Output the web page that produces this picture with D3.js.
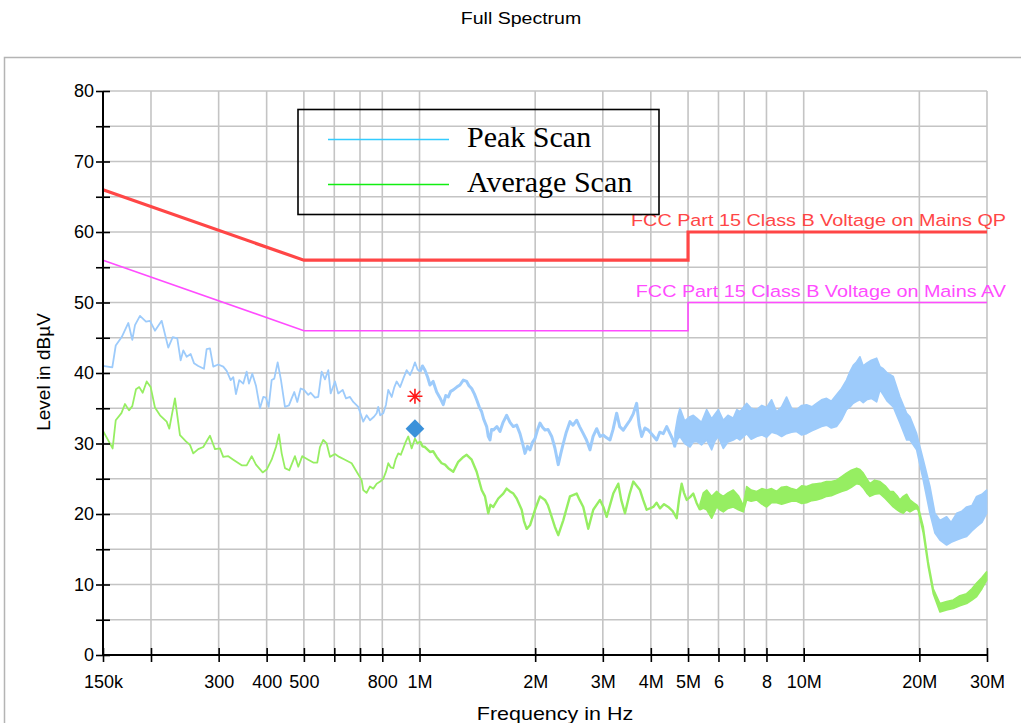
<!DOCTYPE html>
<html><head><meta charset="utf-8">
<script src="https://cdn.jsdelivr.net/npm/d3@7"></script>
<style>
body{margin:0;background:#fff;}
svg{display:block;font-family:Arial,"Liberation Sans",sans-serif;}
</style>
</head><body>
<svg id="chart" width="1021" height="723"></svg>
<script>
// ---------- data (frequency in kHz, level in dBµV) ----------
const chartTitle = "Full Spectrum";
const xAxisTitle = "Frequency in Hz";
const yAxisTitle = "Level in dBµV";

const xGridValues = [150,200,300,400,500,600,700,800,1000,2000,3000,4000,5000,6000,7000,8000,10000,20000,30000];
const xTickLabels = {150:"150k",300:"300",400:"400",500:"500",800:"800",1000:"1M",2000:"2M",3000:"3M",4000:"4M",5000:"5M",6000:"6",8000:"8",10000:"10M",20000:"20M",30000:"30M"};
const yLabelValues = [0,10,20,30,40,50,60,70,80];
const yGridValues = [5,10,15,20,25,30,35,40,45,50,55,60,65,70,75,80];

const qpLimit = [[150,66],[500,56],[5000,56],[5000,60],[30000,60]];
const avLimit = [[150,56],[500,46],[5000,46],[5000,50],[30000,50]];
const qpLabel = "FCC Part 15 Class B Voltage on Mains QP";
const avLabel = "FCC Part 15 Class B Voltage on Mains AV";

const seriesNames = ["Peak Scan","Average Scan"];

// Peak scan, low band: [kHz, dB]
const peakLow = [
 [150,41.0],[158.6,40.8],[161.9,43.9],[167.8,45.1],[174.6,47.1],[178.8,44.7],[181.7,46.8],[187.2,48.1],
 [194.1,47.3],[198.8,47.4],[204.8,46.0],[213.2,47.4],[221.8,43.6],[227.8,45.1],[234.1,44.9],[238.9,41.8],
 [242.7,43.2],[247.7,42.3],[253.7,42.7],[258.8,41.4],[265.5,41.0],[274.7,40.6],[279.2,43.4],[284.8,43.5],
 [290.5,40.9],[299.3,41.2],[308.4,40.9],[314.8,40.3],[322.4,39.0],[327.5,39.4],[332.8,37.0],[339.5,39.0],
 [347.7,38.5],[354.9,40.2],[359.8,38.5],[367.0,39.9],[375.2,38.2],[384.3,35.0],[392.0,36.6],[398.4,36.5],
 [404.9,35.2],[412.2,39.0],[418.7,39.2],[427.3,41.5],[435.9,39.0],[446.4,35.2],[457.2,35.4],[464.7,36.4],
 [472.0,37.3],[480.6,35.9],[490.5,37.8],[500.3,37.6],[513.3,36.9],[520.8,37.2],[534.4,36.5],[545.0,36.6],
 [556.2,40.2],[567.4,39.1],[578.7,40.4],[587.1,37.1],[602.4,38.8],[614.4,37.1],[630.9,37.6],[643.5,36.4],
 [659.1,36.6],[672.2,35.9],[692.7,35.2],[713.7,33.1],[728.4,34.0],[743.0,33.3],[761.0,33.8],[773.5,34.3],
 [780.9,35.2],[790,34.0],[804.7,34.3],[818,35.5],[829.2,37.6],[846.3,36.6],[860,38.0],[872.0,38.8],[890,38.0],
 [907.2,39.2],[925.9,40.4],[944.4,39.7],[960,40.6],[973.1,41.5],[988,40.5],[1002.7,40.2]
];
// Peak scan, mid band (denser trace): [kHz, dB]
const peakMid = [
 [1002.7,40.2],[1018,41.0],[1033.2,40.4],
 [1050,39.4],[1064.6,38.3],[1085,38.8],[1108.2,37.3],[1130,36.5],[1152.9,35.5],[1170,36.8],[1188.0,36.6],
 [1205,37.4],[1224.1,37.6],[1250,38.0],[1274.3,38.3],[1300,39.0],[1326.5,38.8],[1345,38.2],[1366.8,37.8],
 [1390,37.0],[1408.4,36.2],[1430,35.2],[1451.3,34.5],[1470,33.4],[1495.5,32.4],[1510,31.0],[1525.4,30.5],
 [1540,32.0],[1556.0,31.9],[1590,32.4],[1619.6,31.7],[1650,33.0],[1686.0,34.0],[1720,33.0],[1754.1,32.4],
 [1790,32.6],[1826.0,31.4],[1855,30.0],[1881.6,28.6],[1910,29.6],[1938.9,29.1],[1970,30.2],[1998.0,30.7],
 [2030,32.0],[2058.6,32.9],[2090,32.3],[2121.3,31.9],[2160,32.0],[2208.3,31.0],[2250,29.4],[2296.8,27.0],
 [2330,28.5],[2366.7,30.0],[2410,31.6],[2463.6,33.1],[2510,32.6],[2564.5,33.3],[2610,32.4],[2668.1,31.4],
 [2720,30.5],[2777.4,29.1],[2830,31.0],[2891.3,32.1],[2950,31.0],[3008,31.2],[3070,30.8],[3131.3,30.5],
 [3190,32.0],[3259.5,34.3],[3320,32.4],[3391.1,31.9],[3460,32.6],[3530.1,33.3],[3600,34.2],[3674.7,35.7],
 [3730,32.6],[3786.5,31.0],[3860,32.2],[3939.5,31.9],[4040,31.2],[4142.9,30.5],[4220,31.6],[4310.1,31.4],
 [4400,32.4],[4486.7,31.4],[4560,30.6],[4623.3,29.5]
];
// Peak scan, dense part: [kHz, low, high]
const peakBand = [
 [4623,29.5,31.5],[4700,30.6,33.8],[4764,31.0,35.0],[4900,30.0,33.2],[5058,29.5,33.8],[5160,30.2,34.0],
 [5266,30.3,33.6],[5420,29.8,33.0],[5591,30.5,34.8],[5761,29.1,33.5],[5880,30.4,34.2],[5993,31.0,34.8],
 [6176,29.3,33.3],[6350,30.2,34.0],[6557,30.5,33.6],[6700,30.8,34.8],[6826,30.5,34.5],[7106,31.4,35.7],
 [7300,30.6,35.0],[7544,31.0,34.8],[7780,31.2,35.4],[8009,30.9,35.1],[8250,31.6,36.2],[8502,31.4,34.5],
 [8760,31.0,35.2],[9026,31.4,36.6],[9300,31.6,35.0],[9583,31.7,34.8],[9880,31.2,35.4],[10173,31.4,35.5],
 [10500,31.8,35.2],[10801,32.1,35.7],[11130,32.4,36.2],[11467,32.6,36.4],[11800,32.2,36.0],[12173,32.4,36.9],
 [12550,33.4,37.8],[12924,34.8,39.0],[13200,35.2,40.2],[13457,35.7,41.1],[13734,36.0,41.6],[14008,36.2,42.3],
 [14288,35.8,41.0],[14582,36.2,41.4],[15000,36.4,41.8],[15485,35.9,42.1],[15794,37.6,40.9],[16109,36.9,40.6],
 [16500,36.0,40.0],[17103,35.2,39.5],[17803,32.9,36.6],[18533,30.5,34.3],[18903,30.5,33.8],[19677,29.1,31.4],
 [20472,24.8,27.7],[21311,20.1,23.9],[21960,17.3,20.1],[22628,16.3,19.1],[23555,15.6,19.6],[24200,16.0,18.8],
 [25011,16.3,20.1],[25800,16.6,20.4],[26555,16.8,21.0],[27400,17.6,21.2],[28191,18.2,22.5],[29100,18.8,22.8],
 [29931,20.1,23.4]
];
// Average scan, low band: [kHz, dB]
const avgLow = [
 [150,31.8],[158.9,29.3],[161.9,33.3],[167.5,34.3],[171.1,35.6],[175.3,34.7],[178.8,35.3],[182.8,37.7],
 [186.4,38.0],[190.3,37.2],[194.9,38.8],[199.6,38.0],[204.8,35.1],[211.1,34.0],[219.7,33.1],[223.2,32.1],
 [230.9,36.4],[237.9,31.2],[246.6,30.3],[252.6,29.8],[257.7,28.6],[265.5,29.2],[273.6,29.5],[284.8,31.1],
 [293.5,29.2],[302.4,29.3],[308.4,28.1],[317.8,28.2],[327.5,27.7],[344.4,26.9],[354.9,26.9],[365.7,28.2],
 [375.2,27.0],[390.6,25.9],[400.1,26.3],[412.2,27.7],[423.0,29.5],[430.7,31.3],[437.7,28.6],[446.4,26.5],
 [458.1,26.2],[474.0,28.2],[483.5,26.7],[495.2,28.2],[513.3,27.7],[528.9,27.3],[541.8,27.3],[550.6,29.5],
 [561.6,30.5],[573.2,30.0],[584.6,28.1],[602.4,28.5],[618.1,28.1],[639.6,27.7],[665.8,27.2],[686.1,26.0],
 [706.9,24.8],[713.7,23.4],[728,23.0],[743.0,23.9],[758,23.6],[773.5,24.3],[790,24.6],[804.7,25.0],[818,26.0],
 [829.2,27.2],[842,26.6],[854.4,26.5],[867,27.8],[880.4,28.6],[894,28.4],[907.2,29.3],[920,30.2],[934.8,31.0],
 [954.0,29.3],[973.1,30.7],[988,30.0],[1002.7,30.3]
];
// Average scan, mid band: [kHz, dB]
const avgMid = [
 [1002.7,30.3],[1018,29.6],[1033.2,29.5],[1064.6,28.8],[1085,28.9],
 [1108.2,28.1],[1141.9,27.2],[1165,27.0],[1188.0,26.5],[1224.1,26.0],[1261.3,27.4],[1295,28.0],[1326.5,28.4],
 [1366.8,27.7],[1408.4,26.0],[1451.3,23.4],[1480.4,22.5],[1509.9,20.1],[1530,21.3],[1556.0,21.0],[1603.2,22.2],
 [1652.0,22.9],[1685,23.6],[1719.8,23.2],[1755,22.9],[1790.3,22.2],[1844.7,20.6],[1870,19.0],[1900.9,17.9],
 [1938.9,18.4],[1998.0,20.6],[2058.6,22.5],[2121.3,22.0],[2160,21.2],[2208.3,19.6],[2250,18.2],[2296.8,17.0],
 [2366.7,19.1],[2463.6,22.5],[2564.5,22.9],[2610,22.0],[2668.1,21.0],[2749.2,17.9],[2832.9,20.6],[2949.0,22.0],
 [3010,21.0],[3069.9,19.6],[3193.8,22.9],[3291.0,24.3],[3350,22.0],[3425.9,20.1],[3520,22.8],[3600.6,24.6],
 [3748.2,23.4],[3820,22.0],[3901.8,20.6],[4059.3,21.0],[4140,21.6],[4225.7,20.8],[4330,21.4],[4441.2,21.0],
 [4560,20.4],[4670.6,19.4],[4740,22.2],[4812.9,24.3],[4880,23.0],[4959.2,22.0],[5060,22.4],[5159.4,22.9],
 [5260,21.6],[5370.9,20.6]
];
// Average scan, dense part: [kHz, low, high]
const avgBand = [
 [5371,20.6,21.4],[5480,20.8,23.0],[5591,20.6,23.4],[5761,19.4,22.5],[5936,21.0,23.2],[6050,20.6,22.8],
 [6176,20.3,22.5],[6350,20.8,23.0],[6557,21.0,23.4],[6760,20.6,22.6],[6962,20.3,21.2],[7106,22.0,23.9],
 [7300,21.8,23.4],[7544,22.0,23.2],[7780,21.4,23.6],[8009,21.0,23.4],[8250,21.6,23.6],[8502,21.6,23.2],
 [8760,21.4,23.8],[9026,21.6,23.9],[9300,21.8,23.6],[9583,21.8,23.4],[9880,21.5,24.0],[10173,21.6,23.9],
 [10500,21.9,24.2],[10801,22.0,24.3],[11130,22.2,24.4],[11467,22.5,24.6],[11800,22.6,24.6],[12173,22.9,24.8],
 [12550,23.2,25.3],[12924,23.4,25.8],[13300,23.8,26.2],[13734,24.3,26.5],[14008,24.2,26.3],[14288,23.7,25.8],
 [14582,23.0,25.0],[14875,22.5,24.3],[15300,22.8,24.8],[15794,22.9,24.6],[16300,22.2,24.0],[16767,21.5,23.2],
 [17103,21.0,23.2],[17500,20.6,22.6],[17803,20.3,22.0],[18159,20.1,22.5],[18533,20.6,22.8],[18903,20.3,22.0],
 [19300,20.6,21.6],[19677,20.8,21.3],[19868,20.5,21.0],[20472,17.3,18.2],[21095,12.5,13.2],[21737,8.7,9.4],
 [22628,6.1,7.3],[23555,6.4,7.6],[24506,6.6,7.8],[25500,7.0,8.4],[26555,7.3,8.7],[27400,7.8,9.4],
 [28191,8.3,10.2],[29100,9.4,11.0],[29931,10.6,11.8]
];
// Final measurement markers: [kHz, dB]
const qpMarker = [[973,36.7]];
const avMarker = [[973,32.1]];

// ---------- drawing ----------
const svg = d3.select("#chart");
const x = d3.scaleLog().domain([150, 30000]).range([103, 987]);
const y = d3.scaleLinear().domain([0, 80]).range([655, 91]);

// outer panel
svg.append("rect").attr("x",4.5).attr("y",57.5).attr("width",1100).attr("height",800)
  .attr("fill","none").attr("stroke","#b4b4b4").attr("stroke-width",1.5);

function wideText(tx, ty, sx, anchor, size, color, str){
  return svg.append("text").attr("transform",`translate(${tx},${ty}) scale(${sx},1)`)
    .attr("text-anchor",anchor).attr("font-size",size).attr("fill",color).text(str);
}
wideText(521, 24, 1.15, "middle", 17, "#000", chartTitle);

// grid
const grid = svg.append("g").attr("stroke","#c4c4c4").attr("stroke-width",1.6);
grid.selectAll(".vg").data(xGridValues.slice(1)).join("line")
  .attr("x1",d=>x(d)).attr("x2",d=>x(d)).attr("y1",y(80)).attr("y2",y(0));
grid.selectAll(".hg").data(yGridValues).join("line")
  .attr("x1",x(150)).attr("x2",x(30000)).attr("y1",d=>y(d)).attr("y2",d=>y(d));

// limit lines
const lim = d3.line().x(d=>x(d[0])).y(d=>y(d[1]));
svg.append("path").datum(qpLimit).attr("d",lim).attr("fill","none").attr("stroke","#ff4646").attr("stroke-width",3.2);
svg.append("path").datum(avLimit).attr("d",lim).attr("fill","none").attr("stroke","#ff4cff").attr("stroke-width",1.6);
wideText(1006, 226, 1.165, "end", 17, "#ff4646", qpLabel);
wideText(1006, 297, 1.165, "end", 17, "#ff4cff", avLabel);

// traces
const peakColor = "#9dcbfb", avgColor = "#96ee62";
const line = d3.line().x(d=>x(d[0])).y(d=>y(d[1]));
const area = d3.area().x(d=>x(d[0])).y0(d=>y(d[1])).y1(d=>y(d[2]));
function trace(low, mid, band, color, midWidth){
  svg.append("path").datum(low).attr("d",line).attr("fill","none").attr("stroke",color)
    .attr("stroke-width",1.8).attr("stroke-linejoin","round");
  svg.append("path").datum(mid).attr("d",line).attr("fill","none").attr("stroke",color)
    .attr("stroke-width",midWidth).attr("stroke-linejoin","round");
  svg.append("path").datum(band).attr("d",area).attr("fill",color).attr("stroke",color)
    .attr("stroke-width",1.6).attr("stroke-linejoin","round");
}
trace(avgLow, avgMid, avgBand, avgColor, 2.4);
trace(peakLow, peakMid, peakBand, peakColor, 3.0);

// markers
qpMarker.forEach(m=>{
  const cx = x(m[0]), cy = y(m[1]), r = 7.5, p = d3.path();
  for (let k=0;k<4;k++){
    const a = k*Math.PI/4;
    p.moveTo(cx - r*Math.cos(a), cy - r*Math.sin(a));
    p.lineTo(cx + r*Math.cos(a), cy + r*Math.sin(a));
  }
  svg.append("path").attr("d",p.toString()).attr("stroke","#ff1a1a").attr("stroke-width",1.6).attr("fill","none");
});
svg.selectAll(".avm").data(avMarker).join("path")
  .attr("d", d3.symbol().type(d3.symbolSquare).size(175)())
  .attr("transform", d=>`translate(${x(d[0])},${y(d[1])}) rotate(45)`)
  .attr("fill","#3b91da");

// legend
const lg = svg.append("g");
lg.append("rect").attr("x",298).attr("y",109.5).attr("width",361).attr("height",105)
  .attr("fill","none").attr("stroke","#000").attr("stroke-width",1.6);
const legendColors = ["#33ccff","#11ee11"];
seriesNames.forEach((n,i)=>{
  const ly = 139.5 + i*45;
  lg.append("line").attr("x1",328).attr("x2",449).attr("y1",ly).attr("y2",ly)
    .attr("stroke",legendColors[i]).attr("stroke-width",1.6);
  lg.append("text").attr("x",467).attr("y",ly+7.5).attr("font-family","'Liberation Serif','Times New Roman',serif")
    .attr("font-size",30).attr("fill","#000").text(n);
});

// axes
const xAxis = d3.axisBottom(x).tickValues(xGridValues).tickSize(0).tickPadding(20)
  .tickFormat(d=>xTickLabels[d] || "");
const gx = svg.append("g").attr("transform",`translate(0,${y(0)})`).call(xAxis);
gx.select(".domain").attr("stroke","#000").attr("stroke-width",2).attr("d",`M${x(150)},0H${x(30000)}`);
gx.selectAll(".tick line").attr("y1",-7).attr("y2",7).attr("stroke","#000").attr("stroke-width",1.6);
gx.selectAll(".tick text").attr("font-size",18).attr("fill","#000").attr("font-family","Arial,'Liberation Sans',sans-serif");

const yAxis = d3.axisLeft(y).tickValues(yGridValues.concat([0])).tickSize(0).tickPadding(9)
  .tickFormat(d=> yLabelValues.includes(d) ? String(d) : "");
const gy = svg.append("g").attr("transform",`translate(${x(150)},0)`).call(yAxis);
gy.select(".domain").attr("stroke","#000").attr("stroke-width",2).attr("d",`M0,${y(80)}V${y(0)}`);
gy.selectAll(".tick line").attr("x1",-7).attr("x2",7).attr("stroke","#000").attr("stroke-width",1.6);
gy.selectAll(".tick text").attr("font-size",18).attr("fill","#000").attr("font-family","Arial,'Liberation Sans',sans-serif");

wideText(555, 720, 1.13, "middle", 19, "#000", xAxisTitle);
svg.append("text").attr("transform","translate(50,372) rotate(-90)").attr("text-anchor","middle")
  .attr("font-size",19).attr("fill","#000").text(yAxisTitle);
</script>
</body></html>
